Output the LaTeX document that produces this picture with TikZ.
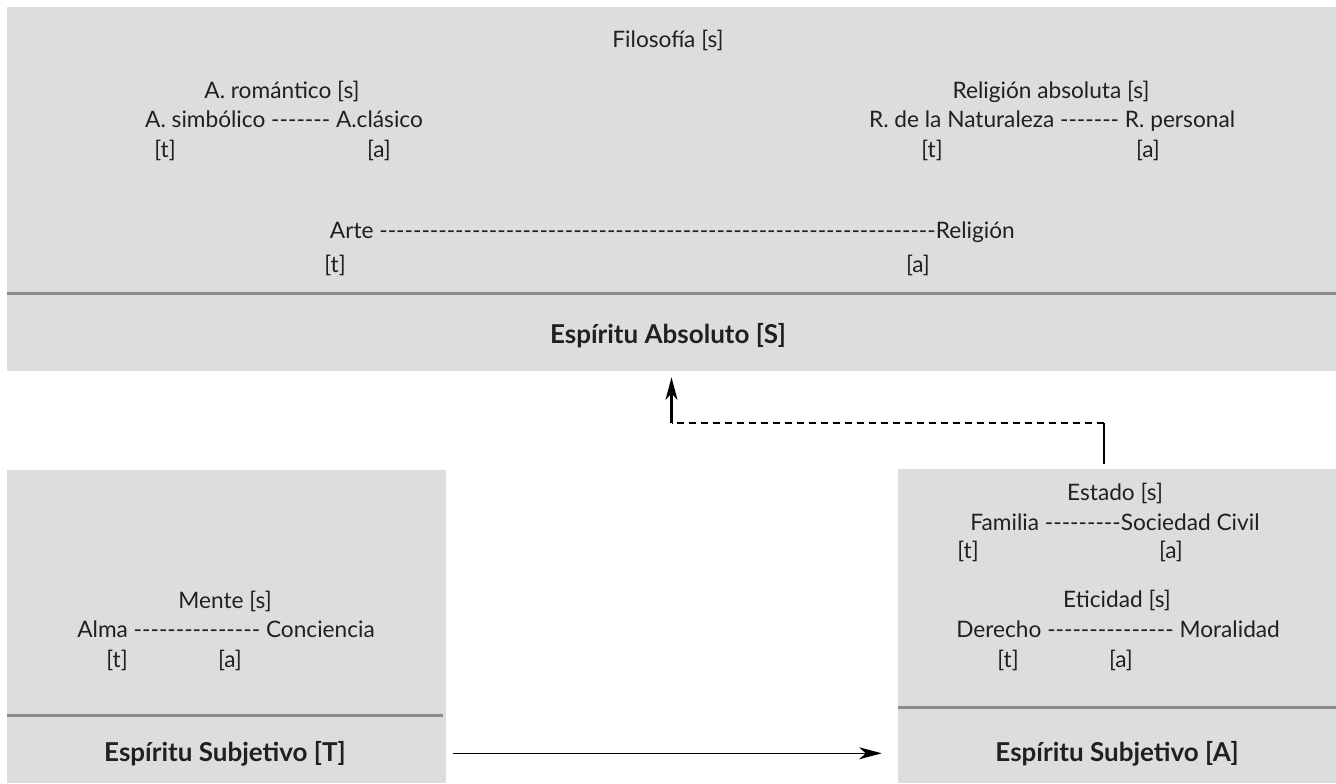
\documentclass[tikz,border=0pt]{standalone}
\usepackage{fontspec}
\setmainfont{Lato}[Ligatures=TeXOff]
\usepackage{tikz}
\usetikzlibrary{positioning,fit,arrows.meta}
\definecolor{fondo}{HTML}{DCDDDF}
\definecolor{raya}{HTML}{8C8C8C}
\definecolor{tinta}{HTML}{231F20}
\tikzstyle{caja}=[rectangle, fill=fondo, inner sep=0pt]
\tikzstyle{texto}=[anchor=base, inner sep=0pt, text=tinta]
\tikzstyle{titulo}=[texto, font=\bfseries\fontsize{19.5}{22}\selectfont]
\tikzstyle{separador}=[draw=raya, line width=2pt]
\tikzset{>={Stealth[length=17pt,width=9pt,inset=5pt]}}
\newcommand{\guiones}[1]{\foreach \g in {1,...,#1}{-}}

\begin{document}
\begin{tikzpicture}[x=0.75pt, y=-0.75pt, font=\fontsize{17}{20}\selectfont]
        \useasboundingbox (0,0) rectangle (1336,783);

        \node (absoluto)[caja, fit={(7,7) (1336,371)}]{};
        \node (subjetivo)[caja, fit={(7,470) (446,783)}]{};
        \node (objetivo)[caja, fit={(898,469) (1336,783)}]{};

        \draw [separador] ([shift={(0,-78)}]absoluto.south west) -- ([shift={(0,-78)}]absoluto.south east);
        \draw [separador] ([shift={(0,-68)}]subjetivo.south west) -- ([shift={(-3,-68)}]subjetivo.south east);
        \draw [separador] ([shift={(0,-76)}]objetivo.south west) -- ([shift={(0,-76)}]objetivo.south east);

        \node (filosofia)[texto] at (668,47) {Filosofía [s]};
        \node (romantico)[texto] at (282,98) {A. romántico [s]};
        \node (simbolico)[texto] at (284,127) {A. simbólico \guiones{7} A.clásico};
        \node (simbolicoT)[texto] at (165,157) {[t]};
        \node (clasicoA)[texto] at (379,157) {[a]};
        \node (relabsoluta)[texto] at (1051,98) {Religión absoluta [s]};
        \node (naturaleza)[texto] at (1052,127) {R. de la Naturaleza \guiones{7} R. personal};
        \node (naturalezaT)[texto] at (932,157) {[t]};
        \node (personalA)[texto] at (1148,157) {[a]};
        \node (arte)[texto] at (672,238) {Arte \guiones{66}Religión};
        \node (arteT)[texto] at (335,272) {[t]};
        \node (religionA)[texto] at (918,272) {[a]};
        \node (tituloS)[titulo] at (668,343) {Espíritu Absoluto [S]};

        \node (mente)[texto] at (225,608) {Mente [s]};
        \node (alma)[texto] at (226,637) {Alma \guiones{15} Conciencia};
        \node (almaT)[texto] at (117,667) {[t]};
        \node (concienciaA)[texto] at (230,667) {[a]};
        \node (tituloT)[titulo] at (225,761) {Espíritu Subjetivo [T]};

        \node (estado)[texto] at (1115,500) {Estado [s]};
        \node (familia)[texto] at (1115,530) {Familia \guiones{9}Sociedad Civil};
        \node (familiaT)[texto] at (968,558) {[t]};
        \node (sociedadA)[texto] at (1171,558) {[a]};
        \node (eticidad)[texto] at (1117,607) {Eticidad [s]};
        \node (derecho)[texto] at (1118,637) {Derecho \guiones{15} Moralidad};
        \node (derechoT)[texto] at (1008,667) {[t]};
        \node (moralidadA)[texto] at (1121,667) {[a]};
        \node (tituloA)[titulo] at (1117,761) {Espíritu Subjetivo [A]};

        \draw [->, line width=0.9pt, shorten <=5pt, shorten >=12pt] (subjetivo.east |- tituloT) -- (objetivo.west |- tituloT);

        \coordinate (codoD) at ([shift={(-13,-46)}]objetivo.north);
        \coordinate (codoI) at (codoD -| absoluto.south);
        \draw [line width=1.6pt] ([shift={(-13,-5)}]objetivo.north) -- (codoD);
        \draw [line width=1.6pt, dash pattern=on 5.25pt off 3.75pt] (codoD) -- (codoI);
        \draw [->, line width=1.6pt, shorten >=4.5pt] (codoI) -- (absoluto.south);

    \end{tikzpicture}
\end{document}
